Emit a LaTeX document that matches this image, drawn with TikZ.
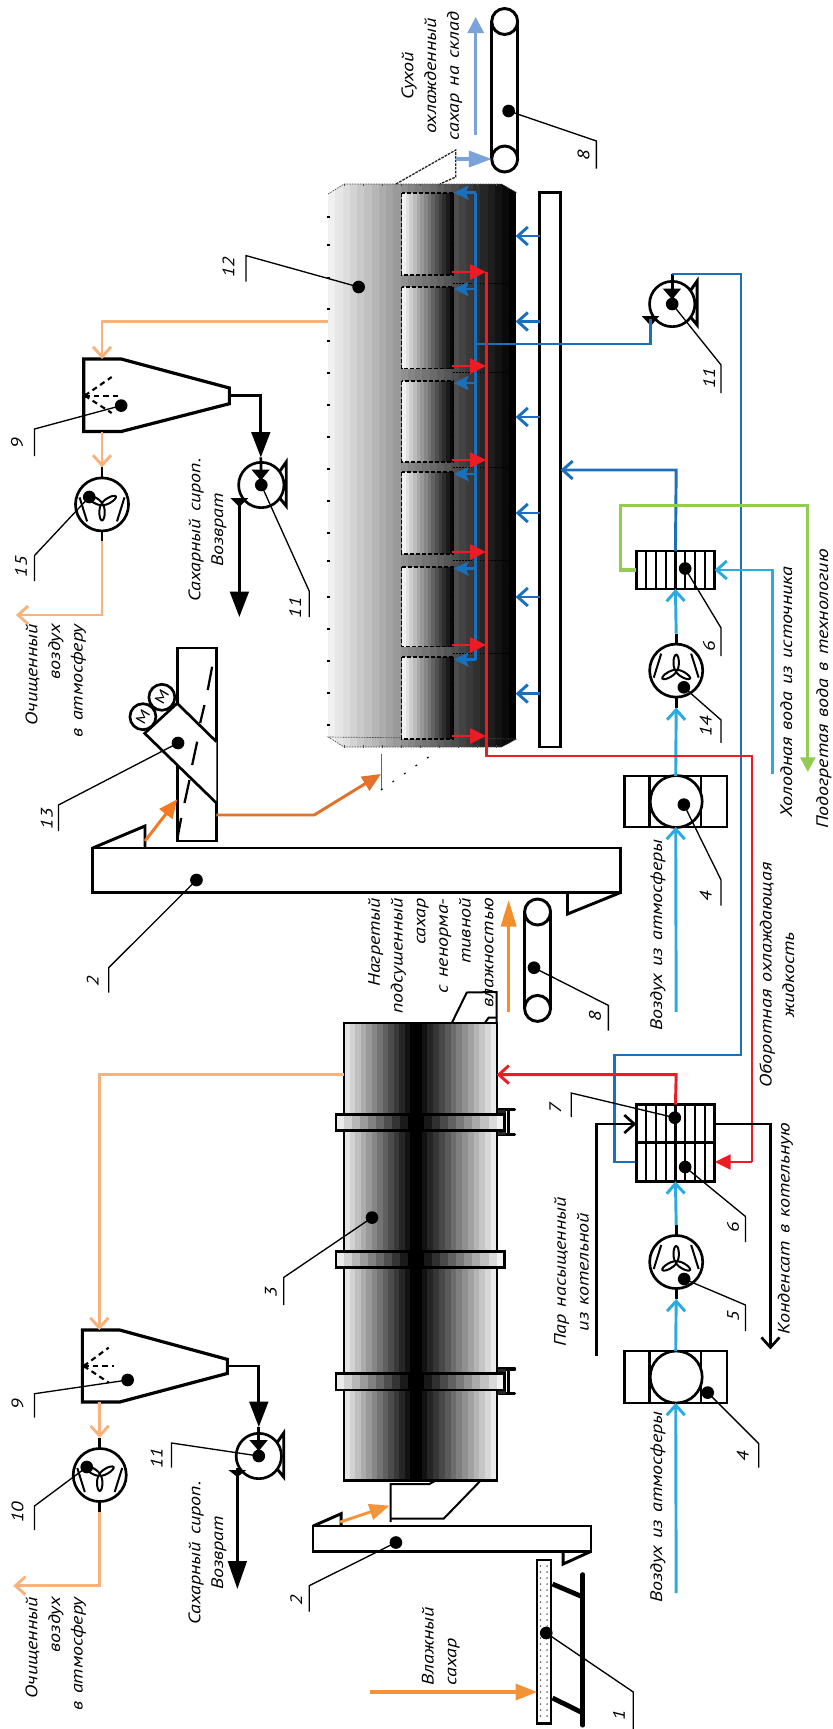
\documentclass[tikz,border=0pt]{standalone}
\usepackage{fontspec}
\usetikzlibrary{arrows.meta}
\newfontfamily\lblfont[FakeStretch=1.2,WordSpace=1.35]{PT Sans}
\definecolor{cpeach}{HTML}{F9B27C}
\definecolor{corange}{HTML}{F28E2B}
\definecolor{cdeep}{HTML}{F47920}
\definecolor{cbrown}{HTML}{E2722A}
\definecolor{cred}{HTML}{ED1C24}
\definecolor{cblue}{HTML}{1B70BD}
\definecolor{csky}{HTML}{29ABE2}
\definecolor{cgreen}{HTML}{92CC50}
\definecolor{cslate}{HTML}{7BA2DA}
\tikzset{
  lb/.style={font=\lblfont\itshape\fontsize{12.5}{17}\selectfont,rotate=90,inner sep=0pt,align=center},
  eq/.style={draw=black,line width=2pt,fill=white,inner sep=0pt,outer sep=0pt,line join=miter},
  bk/.style={draw=black,line width=2pt},
  lead/.style={draw=black,line width=1pt},
  dotn/.style={circle,fill=black,inner sep=0pt,minimum size=9.5pt},
  cl/.style={line width=2.2pt},
  openhead/.style={-{Straight Barb[length=7.5pt,width=13.5pt]}},
  solidhead/.style={-{Triangle[length=11pt,width=10.5pt]}},
  stealthhead/.style={-{Stealth[length=11pt,width=10.5pt,inset=2pt]}},
  bighead/.style={-{Triangle[length=19pt,width=14pt]}},
  fancirc/.style={circle,draw=black,line width=2pt,fill=white,inner sep=0pt,outer sep=0pt,minimum size=39.8pt},
  pumpcirc/.style={circle,draw=black,line width=2pt,fill=white,inner sep=0pt,outer sep=0pt,minimum size=34pt},
  belt/.style={circle,draw=black,line width=2.2pt,fill=white,inner sep=0pt,outer sep=0pt,minimum size=19.5pt}
}
% x0 x1 y0 y1 grey0 grey1 bands
\newcommand\gradbands[7]{\foreach \gbI in {1,...,#7}{%
  \pgfmathsetmacro\gbP{100*(1-((#5)+((#6)-(#5))*(\gbI-1)/((#7)-1)))}%
  \pgfmathsetmacro\gbA{#1+(#2-#1)*(\gbI-1)/#7}%
  \pgfmathsetmacro\gbB{#1+(#2-#1)*\gbI/#7+0.4}%
  \fill[black!\gbP] (\gbA,#3) rectangle (\gbB,#4);}}
% id, dot, knee, end, label pos, text
\newcommand\callout[6]{%
  \node[dotn] (d#1) at (#2) {};
  \coordinate (k#1) at (#3);
  \coordinate (e#1) at (#4);
  \draw[lead] (d#1.center) -- (k#1) -- (e#1);
  \node[lb] (n#1) at (#5) {#6};}
% name x y dir
\newcommand\fanunit[4]{%
  \coordinate (#1-top) at (#2,#3-37);
  \coordinate (#1-bot) at (#2,#3+37);
  \draw[bk] (#1-top) -- (#1-bot);
  \node[fancirc] (#1) at (#2,#3) {};
  \begin{scope}[shift={(#2,#3)}]
    \draw[line width=1.5pt] (-15,{-17*#4}) -- (-22.5,{7*#4}) (15,{-17*#4}) -- (22.5,{7*#4});
    \foreach \fa in {90,210,330}{\draw[line width=1.5pt,fill=white,rotate=\fa*#4] (8,0) ellipse [x radius=8,y radius=2.7];}
  \end{scope}}
% name x y
\newcommand\pumpunit[3]{%
  \begin{scope}[shift={(#2,#3)}]
    \draw[line width=2.2pt,line join=miter] (18,-13) -- (25,-23) -- (25,21) -- (18,12.5);
  \end{scope}
  \node[pumpcirc] (#1) at (#2,#3) {};
  \coordinate (#1-top) at (#2,#3-22.5);
  \coordinate (#1-in) at (#2,#3-6);}
\newcommand\pumptri[2]{\fill[black] (#1-9.5,#2-9.5) -- (#1+9,#2-9.5) -- (#1,#2+1.5) -- cycle;}
\newcommand\hxbars[4]{\foreach \hi in {1,...,7}{\draw[line width=1.7pt] ({638+\hi*9.81},#1) -- ({638+\hi*9.81},#2);}}
\newcommand\eqbox[5]{\node[eq,minimum width={(#4-#2)*0.748pt},minimum height={(#5-#3)*0.75pt}] (#1) at ({(#2+#4)/2},{(#3+#5)/2}) {};}
\newcommand\blowerunit[3]{% name, ytop, ybot
  \eqbox{#1}{626}{#2}{729}{#3}
  \draw[line width=2pt] (651.5,#2) -- (651.5,#3) (703,#2) -- (703,#3);
  \node[fancirc,minimum size=39pt] (#1c) at (678,{(#2+#3)/2}) {};}
\newcommand\rollerunit[2]{% ytop ybot
  \draw[line width=2.4pt,line cap=round] (500,#1) -- (516,#1) (500,#2) -- (516,#2);
  \draw[line width=2.4pt] (510,#1) -- (510,#2);
  \fill[black!85] (499,#1) rectangle (507,#2);}
\begin{document}
\begin{tikzpicture}[x=0.748pt,y=-0.75pt]
\useasboundingbox (0,0) rectangle (835.2,1729);

% ---- cooler 12
\begin{scope}
  \clip (329,194) -- (345,184) -- (503,184) -- (518,192.6) -- (518,739) -- (503,747) -- (345,747) -- (329,737) -- cycle;
  \gradbands{329}{518}{180}{750}{0.94}{0}{26}
\end{scope}
\draw[black!70,line width=.5pt,dash pattern=on 1.2pt off .8pt] (329,194) -- (345,184) -- (503,184) -- (518,192.6) (518,739) -- (503,747) -- (345,747) -- (329,737) -- cycle;
\foreach \ty in {216,244,277,308,340,372,404,436,468,500,532,560,596,628,660,692,724}{\fill[black] (328,\ty) rectangle (330.5,\ty+1.6);}
\foreach \tx in {345,364,383,402,421,440,459,478,497}{\fill[black!70] (\tx,183.5) rectangle (\tx+1.2,186);\fill[black!70] (\tx,745) rectangle (\tx+1.2,747.5);}
\foreach \ca/\cb in {193/275,287/368.5,381/462,472/554,567/646.6,657/739}{
  \gradbands{403}{454.5}{\ca}{\cb}{0.95}{0.03}{14}
  \draw[black,line width=.8pt,dash pattern=on 3pt off 1.5pt] (403,\ca) rectangle (454.5,\cb);
}
\foreach \dy in {283,372,467,560,653}{\draw[black,line width=.7pt,dash pattern=on 1.2pt off 1pt] (454.5,\dy) -- (518,\dy);}

% dashed outlet towards top conveyor
\coordinate (outA) at (397,184);
\coordinate (outB) at (457,150);
\coordinate (outC) at (457,177);
\coordinate (outD) at (441,184);
\draw[black!85,line width=1pt,dash pattern=on 2pt off .8pt] (outA) -- (outB) -- (outC) -- (outD);
% dotted hopper below cooler
\coordinate (hopA) at (382,754);
\coordinate (hopB) at (382,790);
\coordinate (hopC) at (434,754);
\draw[black!60,line width=.6pt] (hopA) -- (hopB);
\draw[black,line width=.8pt,dash pattern=on 1.5pt off 9pt] (hopB) -- (hopC);

% long white air duct
\eqbox{duct}{541}{192.6}{562}{747}

% top conveyor 8
\node[belt] (bt1) at (506,21.5) {};
\node[belt] (bt2) at (506,159) {};
\draw[line width=2.2pt] (bt1.west) -- (bt2.west) (bt1.east) -- (bt2.east);
\coordinate (dryUpA) at (477,135);
\coordinate (dryUpB) at (477,17);
\draw[cslate,line width=2.4pt,-{Triangle[length=12pt,width=12pt]}] (dryUpA) -- (dryUpB);
\coordinate (dryIn) at (457,159);
\draw[cslate,line width=2.4pt,-{Triangle[length=17pt,width=12pt]}] (dryIn) -- (bt2.west);
\node[lb] (tDry) at (433,76) {Сухой\\охлажденный\\сахар на склад};

% blue manifold in cooler
\coordinate (bmTop) at (477,192.6);
\coordinate (bmBot) at (477,659.5);
\draw[cblue,cl] (bmTop) -- (bmBot);
\foreach \ry [count=\ri] in {192.6,289,383,474,568.5,659.5}{
  \coordinate (bo\ri) at (477,\ry);
  \coordinate (bt\ri) at (455,\ry);
  \draw[cblue,cl,stealthhead] (bo\ri) -- (bt\ri);
}
% duct blowing arrows
\foreach \ry [count=\ri] in {236,321.5,417,513,597,693.6}{
  \coordinate (ds\ri) at (541,\ry);
  \coordinate (dt\ri) at (517,\ry);
  \draw[cblue,cl,openhead] (ds\ri) -- (dt\ri);
}

% scrubber top (9)
\coordinate (sA) at (84,359); \coordinate (sB) at (121.5,359); \coordinate (sC) at (230,388); \coordinate (sD) at (230,403.7);
\coordinate (sE) at (121.5,431.5); \coordinate (sF) at (84,431.5);
\draw[line width=2.4pt,fill=white,line join=miter] (sA) -- (sB) -- (sC) -- (sD) -- (sE) -- (sF) -- cycle;
\coordinate (sC0) at (85,395.6);
\foreach \sx/\sy [count=\si] in {112/377,120/395.6,112/413}{\coordinate (sp\si) at (\sx,\sy);
  \draw[line width=1.6pt,dash pattern=on 4pt off 3pt] (sC0) -- (sp\si);}
\fill (sC0) circle [radius=2.5];
% fan 15
\fanunit{fA}{102.3}{504.4}{-1}
% pump upper-left
\pumpunit{pA}{262}{485}
\coordinate (sOutA) at (230,395.6);
\coordinate (sOutK) at (261.5,395.6);
\coordinate (sOutH) at (261.5,457.4);
\draw[bk,line width=2pt,bighead] (sOutA) -- (sOutK) -- (sOutH);
\draw[bk] (sOutH) -- (pA-in);
\pumptri{261.5}{479}
\coordinate (pAo) at (240,498);
\coordinate (pAe) at (240,617);
\fill[black] (231,498) -- (249,498) -- (240,507) -- cycle;
\draw[bk,line width=2pt,bighead] (pAo) -- (pAe);
\node[lb] (tSyrA) at (208,530) {Сахарный сироп.\\Возврат};
% peach lines top
\coordinate (cCoolOut) at (329,321.5);
\coordinate (cPk) at (102.3,321.5);
\coordinate (cPa) at (102.3,359);
\draw[cpeach,cl,openhead,line width=2.2pt] (cCoolOut) -- (cPk) -- (cPa);
\coordinate (sBot) at (102.3,431.5);
\draw[cpeach,line width=2.2pt,openhead] (sBot) -- (fA-top);
\coordinate (fAk) at (102.3,615);
\coordinate (fAe) at (16,615);
\draw[cpeach,line width=2.2pt,openhead] (fA-bot) -- (fAk) -- (fAe);
\node[lb,align=right,anchor=east] (tAirA) at (56,624) {Очищенный\\воздух\\в атмосферу};

% pump right upper (11)
\pumpunit{pB}{674}{304}
\coordinate (pBin) at (674,274);
\draw[bk] (pBin) -- (pB-in);
\pumptri{674}{298}
\fill[black] (643.5,316) -- (661,316) -- (652.6,326) -- cycle;

% heat exchanger 6 (upper)
\eqbox{hxA}{638}{551}{716.5}{589}
\hxbars{551}{589}{}{}

% fan 14, blower 4
\fanunit{fB}{678}{670.6}{1}
\blowerunit{blA}{776}{827}

% blue circuits
\coordinate (bpA) at (477,344);
\coordinate (bpB) at (652.6,344);
\coordinate (bpC) at (652.6,318.5);
\draw[cblue,cl] (bpA) -- (bpB) -- (bpC);
\coordinate (rbA) at (743,274);
\coordinate (rbB) at (743,1055);
\coordinate (rbC) at (616,1055);
\coordinate (rbD) at (616,1162);
\coordinate (rbE) at (638,1162);
\draw[cblue,cl] (rbE) -- (rbD) -- (rbC) -- (rbB) -- (rbA) -- (pBin);
\coordinate (hxOut) at (678,470);
\coordinate (ductIn) at (562,470);
\draw[cblue,cl,openhead] (hxA.north) -- (hxOut) -- (ductIn);

% sky lines
\coordinate (airA) at (678,1012);
\draw[csky,cl,openhead] (airA) -- (blA.south);
\draw[csky,cl,openhead] (blA.north) -- (fB-bot);
\draw[csky,cl,openhead] (fB-top) -- (hxA.south);
\coordinate (cwA) at (775,774);
\coordinate (cwB) at (775,570);
\draw[csky,cl,openhead] (cwA) -- (cwB) -- (hxA.east |- cwB);

% green
\coordinate (grA) at (622,570);
\coordinate (grB) at (622,505.5);
\coordinate (grC) at (810,505.5);
\coordinate (grD) at (810,772);
\draw[cgreen,line width=2.4pt,-{Triangle[length=11pt,width=11pt]}] (hxA.west |- grA) -- (grA) -- (grB) -- (grC) -- (grD);

% screw conveyor 13
\eqbox{scr}{178}{648}{217}{841}
\coordinate (dgA) at (145,733.3); \coordinate (dgB) at (177.7,703.3); \coordinate (dgC) at (217,741.7); \coordinate (dgD) at (217,803);
\fill[white] (dgA) -- (dgB) -- (dgC) -- (dgD) -- cycle;
\draw[line width=2pt,line join=miter] (dgD) -- (dgA) -- (dgB) -- (dgC);
\foreach \xa/\ya/\xb/\yb in {212.7/666.7/208.3/690,205/705/200.7/723,197.7/741.7/192.7/765,190/780/185/803,181.7/818/178.3/836}{
  \draw[line width=1.7pt] (\xa,\ya) -- (\xb,\yb);}
\node[circle,draw=black,line width=2pt,fill=white,inner sep=0pt,minimum size=19.5pt,font=\lblfont\fontsize{11}{11}\selectfont] (mA) at (162.3,697.3) {\rotatebox{60}{M}};
\node[circle,draw=black,line width=2pt,fill=white,inner sep=0pt,minimum size=19.5pt,font=\lblfont\fontsize{11}{11}\selectfont] (mB) at (143.3,716.7) {\rotatebox{60}{M}};

% elevator 2 big
\coordinate (eaA) at (93,848); \coordinate (eaB) at (145.4,826); \coordinate (eaC) at (145.4,848);
\draw[line width=2.2pt,line join=miter] (eaA) -- (eaB) -- (eaC);
\coordinate (ebA) at (569,892.6); \coordinate (ebB) at (569,914); \coordinate (ebC) at (622,892.6);
\draw[line width=2.2pt,line join=miter] (ebA) -- (ebB) -- (ebC);
\eqbox{elA}{93}{848}{622}{892.6}
\coordinate (elAo) at (145.4,841);
\coordinate (scrIn) at (177.7,799.3);
\draw[cdeep,line width=2.2pt,-{Triangle[length=14pt,width=12pt]}] (elAo) -- (scrIn);
\coordinate (scrOut) at (217,815);
\coordinate (scrK) at (315,815);
\coordinate (hopIn) at (382,774);
\draw[cbrown,line width=2.2pt,-{Triangle[length=14pt,width=12pt]}] (scrOut) -- (scrK) -- (hopIn);

% red circuit in cooler
\coordinate (rmTop) at (487.5,272);
\coordinate (rmBot) at (487.5,756);
\coordinate (rmK) at (754,756);
\coordinate (rmD) at (754,1162);
\coordinate (rmE) at (716.5,1162);

% middle conveyor 8
\node[belt] (bm1) at (539,912) {};
\node[belt] (bm2) at (539,1008.4) {};
\draw[line width=2.2pt] (bm1.west) -- (bm2.west) (bm1.east) -- (bm2.east);
\coordinate (mUpA) at (510,1012);
\coordinate (mUpB) at (510,900);
\draw[corange,line width=2.2pt,-{Triangle[length=20pt,width=11.5pt]}] (mUpA) -- (mUpB);

% dryer 3
\coordinate (chA) at (453,1023); \coordinate (chB) at (468,992.5); \coordinate (chC) at (498,992);
\draw[line width=1.5pt] (chA) -- (chB) -- (chC) -- (498,1023);
\coordinate (chD) at (486,1023); \coordinate (chE) at (490,1017.6); \coordinate (chF) at (498,1017.6);
\draw[line width=1.5pt] (chD) -- (chE) -- (chF);
\gradbands{345}{417}{1023}{1480.5}{0.9}{0}{13}
\gradbands{417}{498}{1023}{1480.5}{0}{0.92}{14}
\draw[line width=1.7pt] (345,1023) rectangle (498,1480.5);
\node[inner sep=0pt,minimum width=0pt] (dry) at (421.5,1251) {};
\rollerunit{1109.5}{1134.5}
\rollerunit{1369}{1393.5}
\foreach \ra/\rb in {1114.6/1130.5,1251.5/1267.4,1373.4/1390}{
  \gradbands{337}{417}{\ra}{\rb}{0.92}{0}{10}
  \gradbands{417}{506}{\ra}{\rb}{0}{0.95}{11}
  \draw[line width=2pt] (337,\ra) rectangle (506,\rb);
}
% discharge chute of dryer, lower
\coordinate (dcA) at (391.6,1522); \coordinate (dcB) at (391.6,1484); \coordinate (dcC) at (430.5,1484); \coordinate (dcD) at (437,1480.5);
\draw[line width=1.5pt] (dcA) -- (dcB) -- (dcC) -- (dcD);
\coordinate (dcE) at (482,1480.5); \coordinate (dcF) at (445,1518.5); \coordinate (dcG) at (391.6,1518.5);
\draw[line width=1.5pt] (dcE) -- (dcF) -- (dcG);

% text heated sugar
\node[lb,align=right,anchor=east] (tHot) at (432,898) {Нагретый\\подсушенный\\сахар\\с ненорма-\\тивной\\влажностью};

% elevator 2 small
\coordinate (ecA) at (314,1526); \coordinate (ecB) at (342,1513.7); \coordinate (ecC) at (342,1526);
\draw[line width=2.2pt,line join=miter] (ecA) -- (ecB) -- (ecC);
\coordinate (edA) at (564.7,1551.4); \coordinate (edB) at (564.7,1564); \coordinate (edC) at (592.5,1551.4);
\draw[line width=2.2pt,line join=miter] (edA) -- (edB) -- (edC);
\eqbox{elB}{314}{1526}{592.5}{1551.4}
\coordinate (elBo) at (341,1522);
\coordinate (dryIn2) at (390.5,1505.6);
\draw[corange!80!cpeach,line width=2.2pt,-{Triangle[length=15pt,width=12pt]}] (elBo) -- (dryIn2);

% feeder 1
\coordinate (spA) at (554,1584); \coordinate (spB) at (584.5,1597); \coordinate (spC) at (554,1698); \coordinate (spD) at (584.5,1713);
\draw[line width=3.6pt] (spA) -- (spB) (spC) -- (spD);
\coordinate (spE) at (584.5,1574.7); \coordinate (spF) at (584.5,1725);
\draw[line width=3.8pt,line cap=round] (spE) -- (spF);
\eqbox{feed}{538.5}{1560}{552.5}{1723.5}
\foreach \fy in {1566,1572,...,1720}{
  \fill[black!75] (542,\fy) circle [radius=.8];
  \fill[black!75] (548.5,\fy) circle [radius=.8];
}
\coordinate (feedA) at (371,1692);
\draw[corange!85!cpeach,line width=2.4pt,-{Triangle[length=16pt,width=12pt]}] (feedA) -- (feed.west |- feedA);
\node[lb,align=left,anchor=west] (tWet) at (442,1685.5) {Влажный\\сахар};

% peach lines bottom
\fanunit{fC}{100}{1475}{-1}
\coordinate (s2A) at (82.6,1330); \coordinate (s2B) at (120,1330); \coordinate (s2C) at (228,1359.4); \coordinate (s2D) at (228,1373.4);
\coordinate (s2E) at (120,1402); \coordinate (s2F) at (82.6,1402);
\draw[line width=2.4pt,fill=white,line join=miter] (s2A) -- (s2B) -- (s2C) -- (s2D) -- (s2E) -- (s2F) -- cycle;
\coordinate (s2C0) at (84,1366);
\foreach \sx/\sy [count=\si] in {109/1347.6,114.5/1366,109/1382.6}{\coordinate (sq\si) at (\sx,\sy);
  \draw[line width=1.6pt,dash pattern=on 4pt off 3pt] (s2C0) -- (sq\si);}
\fill (s2C0) circle [radius=2.5];
\coordinate (dryOut) at (345,1074.6);
\coordinate (dryK) at (99.6,1074.6);
\coordinate (dryS) at (99.6,1330);
\draw[cpeach,line width=2.2pt,openhead] (dryOut) -- (dryK) -- (dryS);
\coordinate (s2Bot) at (99.6,1402);
\draw[cpeach,line width=2.2pt,openhead] (s2Bot) -- (fC-top);
\coordinate (fCk) at (100,1585.7);
\coordinate (fCe) at (13.3,1585.7);
\draw[cpeach,line width=2.2pt,openhead] (fC-bot) -- (fCk) -- (fCe);
\node[lb,align=right,anchor=east] (tAirB) at (56,1597) {Очищенный\\воздух\\в атмосферу};
% pump lower-left
\pumpunit{pC}{259.5}{1456}
\coordinate (s2OutA) at (228,1366);
\coordinate (s2OutK) at (259.5,1366);
\coordinate (s2OutH) at (259.5,1427);
\draw[line width=2pt,bighead] (s2OutA) -- (s2OutK) -- (s2OutH);
\draw[bk] (s2OutH) -- (pC-in);
\pumptri{259.5}{1449.5}
\coordinate (pCo) at (238,1468);
\coordinate (pCe) at (238,1589);
\fill[black] (229,1470) -- (247,1470) -- (238,1477) -- cycle;
\draw[line width=2pt,-{Triangle[length=21pt,width=14pt]}] (pCo) -- (pCe);
\node[lb] (tSyrB) at (208,1553) {Сахарный сироп.\\Возврат};

% lower air train
\blowerunit{blB}{1351}{1403}
\fanunit{fD}{678}{1262}{1}
\eqbox{hxB}{638}{1104.6}{716.5}{1181.4}
\hxbars{1104.6}{1181.4}{}{}
\draw[line width=1.7pt] (hxB.west |- 0,1142.5) -- (hxB.east |- 0,1142.5);
\coordinate (airB) at (678,1593);
\draw[csky,cl,openhead] (airB) -- (blB.south);
\draw[csky,cl,openhead] (blB.north) -- (fD-bot);
\draw[csky,cl,openhead] (fD-top) -- (hxB.south);
% air to dryer
\coordinate (hotK) at (678,1074.6);
\coordinate (hotE) at (498,1074.6);
\draw[cred,cl,openhead] (hxB.north) -- (hotK) -- (hotE);
% manifold red
\draw[cred,line width=2.2pt] (rmTop) -- (rmBot) -- (rmK) -- (rmD);
\draw[cred,line width=2.2pt,-{Triangle[length=12pt,width=11pt]}] (rmD) -- (rmE);
\foreach \ry [count=\ri] in {272,366,460,552,645,736}{
  \coordinate (ra\ri) at (453,\ry);
  \coordinate (rb\ri) at (487.5,\ry);
  \draw[cred,line width=2.2pt,-{Triangle[length=12pt,width=11pt]}] (ra\ri) -- (rb\ri);
}
% steam and condensate
\coordinate (stA) at (597.8,1356);
\coordinate (stB) at (597.8,1124);
\coordinate (stC) at (638,1124);
\draw[line width=2pt,openhead] (stA) -- (stB) -- (stC);
\coordinate (coA) at (716.5,1124);
\coordinate (coB) at (772.5,1124);
\coordinate (coC) at (772.5,1349.4);
\draw[line width=2pt,openhead] (coA) -- (coB) -- (coC);

% texts
\node[lb] (tAtmA) at (659.6,935) {Воздух из атмосферы};
\node[lb] (tAtmB) at (659.6,1507) {Воздух из атмосферы};
\node[lb] (tCirc) at (779,975) {Оборотная охлаждающая\\жидкость};
\node[lb] (tSteam) at (573,1272) {Пар насыщенный\\из котельной};
\node[lb] (tCond) at (787.4,1229) {Конденсат в котельную};
\node[lb] (tCold) at (788.5,692) {Холодная вода из источника};
\node[lb] (tHeat) at (826,689) {Подогретая вода в технологию};

% callouts
\callout{a8}{510,111}{598,141}{598,168.5}{585,155}{8}
\callout{a12}{359.6,287}{246.7,255.6}{246.7,281.5}{229,267.4}{12}
\callout{a11}{674,304}{723,365}{723,393}{711,378}{11}
\callout{a9}{121.5,405.6}{34.6,429}{34.6,456}{17,443.7}{9}
\callout{a15}{89.5,497}{34.6,555.5}{34.6,581}{21,566.7}{15}
\callout{b11}{262,485}{310,591}{310,617}{296,607.7}{11}
\callout{a6}{687,568.5}{723,628}{723,656}{711,646}{6}
\callout{a14}{685.7,687.3}{723,720}{723,742.8}{707.5,726}{14}
\callout{a13}{178.5,743}{58.6,805}{58.6,831}{47,818.6}{13}
\callout{a4}{685.7,804.6}{723,880}{723,905.6}{707.5,896}{4}
\callout{a2}{197,880}{109,967.7}{109,992.5}{93,981}{2}
\callout{b8}{535.4,967.7}{610,1005.4}{610,1030.6}{596.7,1016.5}{8}
\callout{a7}{676.6,1117.7}{572.7,1093}{572.7,1117}{556.7,1108}{7}
\callout{b6}{687,1167}{747.5,1216.5}{747.5,1242}{735,1227.5}{6}
\callout{a5}{686,1279}{747.5,1305}{747.5,1331}{735,1316}{5}
\callout{a3}{373,1217.6}{284.5,1277.4}{284.5,1305}{271.7,1292}{3}
\callout{b9}{128,1380}{34.6,1393.7}{34.6,1417.7}{17.6,1404}{9}
\callout{a10}{87,1467}{34.6,1506}{34.6,1530}{17.6,1512}{10}
\callout{c11}{259.5,1456}{172,1443}{172,1467.6}{157,1458}{11}
\callout{b4}{709.6,1392.6}{760.8,1443.6}{760.8,1467.6}{744.8,1455.8}{4}
\callout{b2}{397,1542.5}{310,1585.7}{310,1611.6}{297,1600}{2}
\callout{a1}{547.7,1633}{635,1692}{635,1729}{620.7,1715}{1}
\end{tikzpicture}
\end{document}
